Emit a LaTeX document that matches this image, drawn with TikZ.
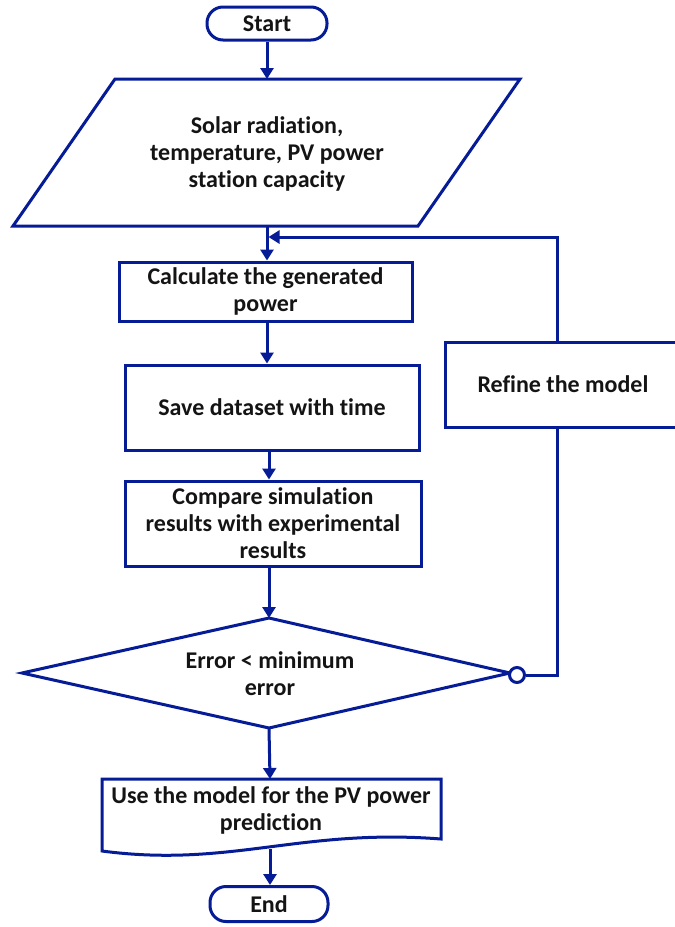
\documentclass[tikz,border=0pt]{standalone}
\usepackage{fontspec}
\setmainfont{Carlito}[Ligatures=NoCommon]
\usetikzlibrary{arrows.meta}
\definecolor{fcblue}{RGB}{5,28,150}
\definecolor{fctext}{RGB}{20,20,20}
\begin{document}
\begin{tikzpicture}[x=1pt,y=-1pt,
  line width=3pt,
  every node/.style={font=\fontsize{24}{27}\selectfont\bfseries, text=fctext, align=center, inner sep=0pt},
  shp/.style={draw=fcblue, line width=3pt},
  boxnode/.style={shp, rectangle, fill=white},
  term/.style={shp, rectangle, rounded corners=16pt, fill=white},
  conn/.style={draw=fcblue, line width=3pt},
  arr/.style={conn, -{Triangle[length=11pt,width=13pt]}}]
\useasboundingbox (0,0) rectangle (675,927);
\fill[white] (0,0) rectangle (675,927);

% Start
\node[term, minimum width=120pt, minimum height=33pt] (start) at (267,23.5) {Start};

% Input parallelogram
\coordinate (pTL) at (115,79);
\coordinate (pTR) at (520,79);
\coordinate (pBR) at (418,226);
\coordinate (pBL) at (13,226);
\draw[shp, line join=miter] (pTL) -- (pTR) -- (pBR) -- (pBL) -- cycle;
\node (input) at (267,154) {Solar radiation,\\temperature, PV power\\station capacity};
\coordinate (inTop) at (267,79);
\coordinate (inBot) at (267,226);

% Process boxes
\node[boxnode, minimum width=293pt, minimum height=59pt] (calc) at (265.5,291.5) {Calculate the generated\\power};
\node[boxnode, minimum width=294pt, minimum height=85pt] (save) at (272,407.5) {Save dataset with time};
\node[boxnode, minimum width=296pt, minimum height=85pt] (compare) at (273,523.5) {Compare simulation\\results with experimental\\results};
\node[boxnode, minimum width=236pt, minimum height=85pt] (refine) at (563,384.5) {Refine the model};

% Decision diamond
\coordinate (dT) at (269,618);
\coordinate (dL) at (22,673);
\coordinate (dR) at (510,673);
\coordinate (dB) at (269,728);
\draw[shp, line join=miter] (dT) -- (dR) -- (dB) -- (dL) -- cycle;
\node (dec) at (270,674) {Error < minimum\\error};
\node[circle, draw=fcblue, line width=3pt, fill=white, minimum size=15pt] (circ) at (517,675) {};

% Document shape
\coordinate (uTL) at (102,779);
\coordinate (uTR) at (441,779);
\draw[shp, line join=miter] (uTL) -- (uTR) -- (441,839) .. controls (300,828) and (230,868) .. (102,851) -- cycle;
\node (use) at (271,810) {Use the model for the PV power\\prediction};
\coordinate (uTop) at (270,779);
\coordinate (uBot) at (270,849);

% End
\node[term, minimum width=118pt, minimum height=35pt] (end) at (269,904) {End};

% Connectors
\coordinate (fbx) at (557,237);
\coordinate (fbin) at (268.5,237);
\draw[arr] (start.south) -- (inTop);
\draw[arr] (inBot) -- (inBot |- calc.north);
\draw[arr] (calc.south -| inBot) -- (inBot |- save.north);
\draw[arr] (save.south -| dT) -- (dT |- compare.north);
\draw[arr] (compare.south -| dT) -- (dT);
\draw[arr] (dB) -- (uTop);
\draw[arr] (uBot) -- (end.north -| uBot);
\draw[arr] (refine.north -| fbx) -- (fbx) -- (fbin);
\draw[conn] (refine.south -| fbx) |- (circ.east);
\end{tikzpicture}
\end{document}
